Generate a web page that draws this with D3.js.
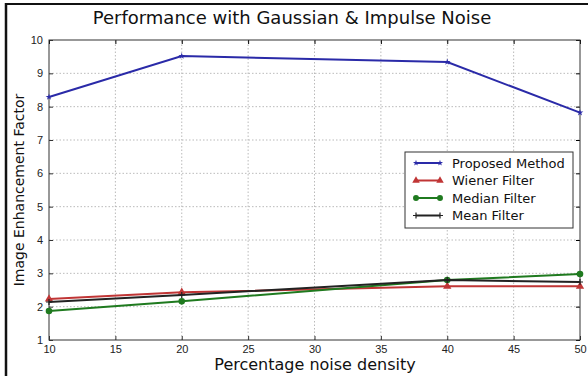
<!DOCTYPE html>
<html>
<head>
<meta charset="utf-8">
<script src="https://cdn.jsdelivr.net/npm/d3@7"></script>
<style>
  body { margin: 0; background: #fff; }
  svg { font-family: "DejaVu Sans", sans-serif; }
  .grid line { stroke: #a8a8a8; stroke-dasharray: 1.5,2; stroke-width: 0.8; }
</style>
</head>
<body>
<figure id="chart" style="margin:0"></figure>
<script>
  const noiseDensity = [10, 20, 40, 50];
  const proposed = [8.29, 9.52, 9.34, 7.82];
  const wiener = [2.23, 2.43, 2.61, 2.61];
  const median = [1.87, 2.16, 2.8, 2.98];
  const mean = [2.14, 2.35, 2.8, 2.74];
  const xTicks = [10, 15, 20, 25, 30, 35, 40, 45, 50];
  const yTicks = [1, 2, 3, 4, 5, 6, 7, 8, 9, 10];

  const series = [
    { name: "Proposed Method", values: proposed, color: "#2a2aa8", marker: "star" },
    { name: "Wiener Filter", values: wiener, color: "#c03535", marker: "triangle" },
    { name: "Median Filter", values: median, color: "#1f7a1f", marker: "circle" },
    { name: "Mean Filter", values: mean, color: "#222222", marker: "plus" }
  ];

  const width = 588, height = 376;
  const margin = { top: 40, right: 8, bottom: 36, left: 49 };

  const svg = d3.select("figure#chart")
    .append("svg")
    .attr("width", width)
    .attr("height", height);

  // outer frame (left and top edges visible)
  svg.append("line").attr("x1", 6).attr("x2", 6).attr("y1", 3).attr("y2", height).attr("stroke", "#111").attr("stroke-width", 2.5);
  svg.append("line").attr("x1", 5).attr("x2", width).attr("y1", 4).attr("y2", 4).attr("stroke", "#111").attr("stroke-width", 2);

  const x = d3.scaleLinear().domain([10, 50]).range([margin.left, width - margin.right]);
  const y = d3.scaleLinear().domain([1, 10]).range([height - margin.bottom, margin.top]);

  // grid
  svg.append("g").attr("class", "grid")
    .selectAll("line.v").data(xTicks.slice(1, -1)).enter().append("line")
    .attr("x1", d => x(d)).attr("x2", d => x(d))
    .attr("y1", y(1)).attr("y2", y(10));
  svg.append("g").attr("class", "grid")
    .selectAll("line.h").data(yTicks.slice(1, -1)).enter().append("line")
    .attr("x1", x(10)).attr("x2", x(50))
    .attr("y1", d => y(d)).attr("y2", d => y(d));

  // axes with inward ticks
  const xAxis = d3.axisBottom(x).tickValues(xTicks).tickSizeInner(-4).tickSizeOuter(0).tickPadding(5);
  const yAxis = d3.axisLeft(y).tickValues(yTicks).tickSizeInner(-4).tickSizeOuter(0).tickPadding(6);
  const gx = svg.append("g").attr("transform", "translate(0," + y(1) + ")").call(xAxis);
  const gy = svg.append("g").attr("transform", "translate(" + x(10) + ",0)").call(yAxis);
  [gx, gy].forEach(g => {
    g.select(".domain").remove();
    g.selectAll("text").style("font-size", "11px").attr("fill", "#222");
    g.selectAll("line").attr("stroke", "#333");
  });
  // top/right ticks
  svg.append("g").attr("transform", "translate(0," + y(10) + ")")
    .call(d3.axisTop(x).tickValues(xTicks).tickSizeInner(-4).tickSizeOuter(0).tickFormat(""))
    .call(g => g.select(".domain").remove());
  svg.append("g").attr("transform", "translate(" + x(50) + ",0)")
    .call(d3.axisRight(y).tickValues(yTicks).tickSizeInner(-4).tickSizeOuter(0).tickFormat(""))
    .call(g => g.select(".domain").remove());

  // plot frame
  svg.append("rect")
    .attr("x", x(10)).attr("y", y(10))
    .attr("width", x(50) - x(10)).attr("height", y(1) - y(10))
    .attr("fill", "none").attr("stroke", "#333").attr("stroke-width", 1);

  const line = d3.line().x((d, i) => x(noiseDensity[i])).y(d => y(d));

  function drawMarker(g, type, color, cx, cy, s) {
    if (type === "circle") {
      g.append("circle").attr("cx", cx).attr("cy", cy).attr("r", 3.3 * s).attr("fill", color);
    } else if (type === "triangle") {
      g.append("path").attr("d", d3.symbol().type(d3.symbolTriangle).size(30 * s * s)())
        .attr("transform", "translate(" + cx + "," + cy + ")").attr("fill", color);
    } else if (type === "star") {
      g.append("path").attr("d", d3.symbol().type(d3.symbolStar).size(14 * s * s)())
        .attr("transform", "translate(" + cx + "," + cy + ")").attr("fill", color);
    } else {
      g.append("path").attr("d", "M" + (cx - 3) + "," + cy + "h6M" + cx + "," + (cy - 3) + "v6")
        .attr("stroke", color).attr("stroke-width", 1.2);
    }
  }

  series.forEach(s => {
    const g = svg.append("g");
    g.append("path").datum(s.values).attr("d", line)
      .attr("fill", "none").attr("stroke", s.color).attr("stroke-width", 2);
    s.values.forEach((v, i) => drawMarker(g, s.marker, s.color, x(noiseDensity[i]), y(v), 1));
  });

  // legend
  const legend = svg.append("g").attr("transform", "translate(405,152)");
  legend.append("rect").attr("width", 168).attr("height", 76)
    .attr("fill", "#fff").attr("stroke", "#333").attr("stroke-width", 1);
  series.forEach((s, i) => {
    const ly = 11 + i * 17.5;
    legend.append("line").attr("x1", 11).attr("x2", 35).attr("y1", ly).attr("y2", ly)
      .attr("stroke", s.color).attr("stroke-width", 2);
    drawMarker(legend, s.marker, s.color, 11, ly, 0.9);
    drawMarker(legend, s.marker, s.color, 35, ly, 0.9);
    legend.append("text").attr("x", 47).attr("y", ly + 4.5)
      .text(s.name).style("font-size", "13px").attr("fill", "#111");
  });

  // title and labels
  svg.append("text").attr("x", 292).attr("y", 24).attr("text-anchor", "middle")
    .text("Performance with Gaussian & Impulse Noise").style("font-size", "18px").attr("fill", "#111");
  svg.append("text").attr("x", 315).attr("y", 370).attr("text-anchor", "middle")
    .text("Percentage noise density").style("font-size", "16px").attr("fill", "#111");
  svg.append("text").attr("transform", "translate(24," + y(5.5) + ") rotate(-90)")
    .attr("text-anchor", "middle")
    .text("Image Enhancement Factor").style("font-size", "14px").attr("fill", "#111");
</script>
</body>
</html>
